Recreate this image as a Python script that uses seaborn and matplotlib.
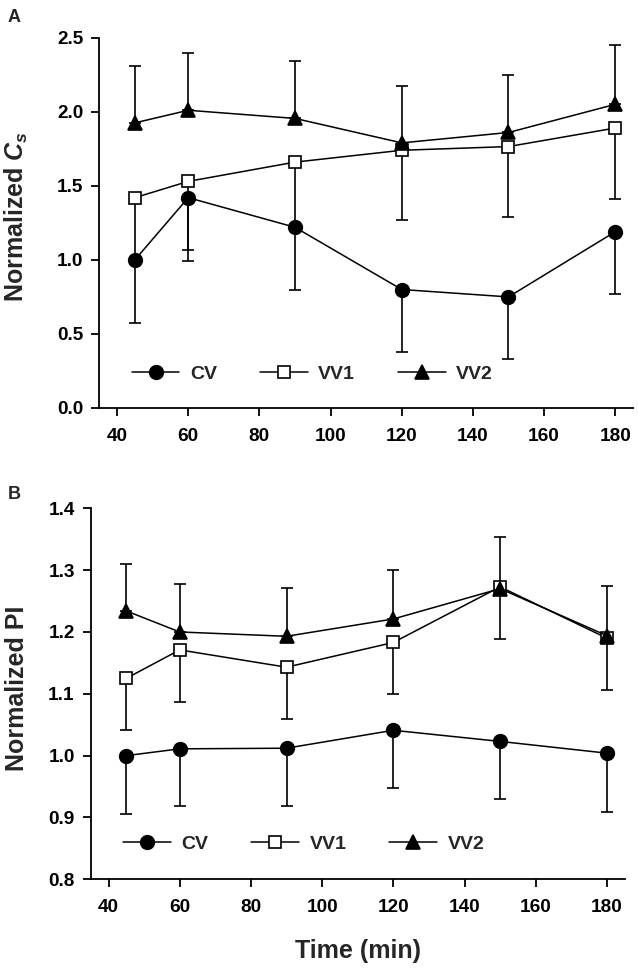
import numpy as np
import pandas as pd
import matplotlib
matplotlib.use("Agg")
import matplotlib.pyplot as plt
import seaborn as sns

sns.set_style("ticks")
plt.rcParams['font.family'] = ['Liberation Sans', 'DejaVu Sans']
plt.rcParams['font.weight'] = 'bold'
plt.rcParams['mathtext.fontset'] = 'custom'
plt.rcParams['mathtext.it'] = 'Liberation Sans:italic:bold'
plt.rcParams['mathtext.rm'] = 'Liberation Sans:bold'

time = [45, 60, 90, 120, 150, 180]
groups = ["CV", "VV1", "VV2"]

# Panel A: Normalized Cs
a_cv = [1.00, 1.42, 1.22, 0.80, 0.75, 1.19]
a_cv_lo = [0.575, 0.994, 0.80, 0.378, 0.33, 0.77]
a_vv1 = [1.42, 1.53, 1.66, 1.74, 1.765, 1.89]
a_vv1_lo = [0.99, 1.065, 1.23, 1.268, 1.29, 1.412]
a_vv2 = [1.925, 2.01, 1.955, 1.79, 1.86, 2.05]
a_vv2_hi = [2.31, 2.40, 2.345, 2.175, 2.247, 2.448]

# Panel B: Normalized PI
b_cv = [1.000, 1.011, 1.012, 1.041, 1.023, 1.004]
b_cv_lo = [0.906, 0.918, 0.918, 0.948, 0.930, 0.909]
b_vv1 = [1.125, 1.171, 1.143, 1.183, 1.273, 1.190]
b_vv1_lo = [1.041, 1.086, 1.059, 1.099, 1.188, 1.106]
b_vv2 = [1.234, 1.200, 1.193, 1.221, 1.270, 1.194]
b_vv2_hi = [1.310, 1.277, 1.271, 1.300, 1.353, 1.274]

W, H = 638, 969
fig = plt.figure(figsize=(W / 100, H / 100), dpi=100)
# axes rectangles from pixel positions
axA = fig.add_axes([99.3 / W, 1 - 408 / H, (633 - 99.3) / W, (408 - 37.7) / H])
axB = fig.add_axes([90.7 / W, 1 - 879.3 / H, (624.7 - 90.7) / W, (879.3 - 508.3) / H])

styles = {
    "CV": dict(marker='o', markerfacecolor='black', markersize=9.8),
    "VV1": dict(marker='s', markerfacecolor='white', markersize=9.0),
    "VV2": dict(marker='^', markerfacecolor='black', markersize=9.8),
}

def draw(ax, series, lows, highs, ylim, yticks, ylabel, leg_anchor, ylab_xy):
    for g, vals in zip(groups, series):
        lo = lows.get(g)
        hi = highs.get(g)
        v = np.array(vals)
        yerr_lo = v - np.array(lo) if lo is not None else np.zeros_like(v)
        yerr_hi = np.array(hi) - v if hi is not None else np.zeros_like(v)
        ax.errorbar(time, v, yerr=[yerr_lo, yerr_hi], fmt='none', ecolor='black',
                    elinewidth=1.2, capsize=4.3, capthick=1.2, zorder=2)
    for g, vals in zip(groups, series):
        df = pd.DataFrame({"Time": time, "val": vals})
        sns.lineplot(data=df, x="Time", y="val", ax=ax, color='black', linewidth=1.1,
                     markeredgecolor='black', markeredgewidth=1.2, label=g, zorder=3,
                     **styles[g])
    ax.set_xlim(35, 185)
    ax.set_ylim(*ylim)
    ax.set_yticks(yticks)
    ax.set_yticklabels([f"{t:.1f}" for t in yticks])
    ax.set_xticks([40, 60, 80, 100, 120, 140, 160, 180])
    for s in ['top', 'right']:
        ax.spines[s].set_visible(False)
    for s in ['left', 'bottom']:
        ax.spines[s].set_linewidth(1.3)
        ax.spines[s].set_color('black')
    ax.tick_params(axis='both', direction='out', length=5.5, width=1.3, labelsize=13.7,
                   colors='black')
    ax.tick_params(axis='y', pad=6)
    ax.tick_params(axis='x', pad=9)
    for lab in ax.get_xticklabels() + ax.get_yticklabels():
        lab.set_fontweight('bold')
    ax.set_ylabel(ylabel, fontsize=18, fontweight='bold')
    ax.yaxis.label.set_verticalalignment('baseline')
    ax.yaxis.set_label_coords(*ylab_xy)
    ax.set_xlabel("")
    leg = ax.legend(loc='center left', bbox_to_anchor=leg_anchor, ncol=3,
                    frameon=False, fontsize=14, handlelength=2.45, columnspacing=2.2,
                    handletextpad=0.55, borderpad=0, borderaxespad=0)
    for t in leg.get_texts():
        t.set_fontweight('bold')

draw(axA, [a_cv, a_vv1, a_vv2], {"CV": a_cv_lo, "VV1": a_vv1_lo}, {"VV2": a_vv2_hi},
     (0, 2.5), [0.0, 0.5, 1.0, 1.5, 2.0, 2.5], r"Normalized $C_s$",
     (0.061, 0.092), (-0.141, 0.518))
draw(axB, [b_cv, b_vv1, b_vv2], {"CV": b_cv_lo, "VV1": b_vv1_lo}, {"VV2": b_vv2_hi},
     (0.8, 1.4), [0.8, 0.9, 1.0, 1.1, 1.2, 1.3, 1.4], "Normalized PI",
     (0.061, 0.095), (-0.125, 0.515))
axB.set_xlabel("Time (min)", fontsize=18, fontweight='bold')
axB.xaxis.set_label_coords(0.5, -0.16)

fig.text(8 / W, 1 - 9 / H, "A", fontsize=13, fontweight='bold', va='top')
fig.text(8 / W, 1 - 486 / H, "B", fontsize=13, fontweight='bold', va='top')

fig.savefig("out.png", dpi=100, facecolor='white')
